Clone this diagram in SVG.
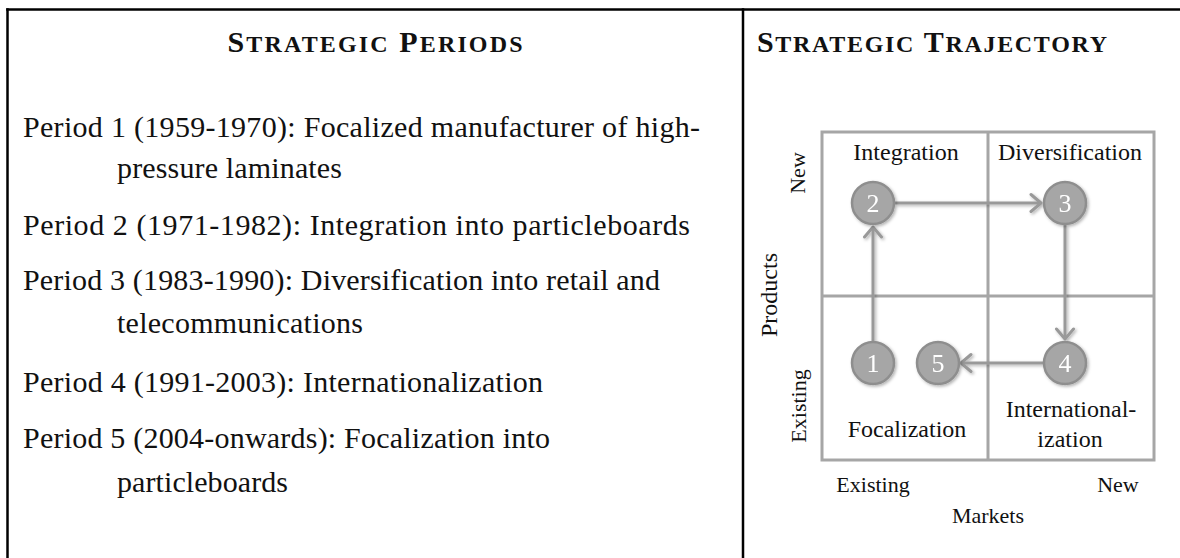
<svg xmlns="http://www.w3.org/2000/svg" width="1180" height="558" viewBox="0 0 1180 558">
<style>
.frame{stroke:#000;stroke-width:2.5;fill:none}
.title{font-family:"Liberation Serif",serif;font-weight:bold;fill:#111;font-size:30px}
.sc{font-size:24px}
.body{font-family:"Liberation Serif",serif;font-size:30px;fill:#111}
.lbl{font-family:"Liberation Serif",serif;font-size:24px;fill:#111;text-anchor:middle}
.ax{font-family:"Liberation Serif",serif;font-size:22px;fill:#111;text-anchor:middle}
.grid{stroke:#a6a6a6;stroke-width:3;fill:none}
.node circle{fill:#a6a6a6;stroke:#8e8e8e;stroke-width:2.5}
.node text{font-family:"Liberation Serif",serif;font-size:26px;fill:#fff;text-anchor:middle}
.conn line{stroke:#999;stroke-width:3}
</style>
<defs>
<filter id="sh" x="-30%" y="-30%" width="160%" height="160%">
<feDropShadow dx="1.5" dy="1.5" stdDeviation="1.5" flood-color="#000" flood-opacity="0.3"/>
</filter>
<marker id="ah" markerUnits="userSpaceOnUse" viewBox="-12 -11 15 22" refX="0" refY="0" markerWidth="15" markerHeight="22" orient="auto">
<path d="M-10,-8.5 L0,0 L-10,8.5" fill="none" stroke="#999" stroke-width="3" stroke-linecap="round" stroke-linejoin="round"/>
</marker>
</defs>
<rect width="1180" height="558" fill="#fff"/>
<g id="frame">
<line class="frame" x1="6.2" y1="9.5" x2="1180" y2="9.5"/>
<line class="frame" x1="7.5" y1="8.3" x2="7.5" y2="558"/>
<line class="frame" x1="743" y1="8.3" x2="743" y2="558"/>
</g>
<g id="periods">
<text class="title" x="375" y="52" text-anchor="middle" textLength="295" lengthAdjust="spacing">S<tspan class="sc">TRATEGIC</tspan> P<tspan class="sc">ERIODS</tspan></text>
<text class="body" x="23" y="137" textLength="677" lengthAdjust="spacing">Period 1 (1959-1970): Focalized manufacturer of high-</text>
<text class="body" x="117" y="178" textLength="225" lengthAdjust="spacing">pressure laminates</text>
<text class="body" x="23" y="235" textLength="667" lengthAdjust="spacing">Period 2 (1971-1982): Integration into particleboards</text>
<text class="body" x="23" y="290" textLength="637" lengthAdjust="spacing">Period 3 (1983-1990): Diversification into retail and</text>
<text class="body" x="117" y="333" textLength="246" lengthAdjust="spacing">telecommunications</text>
<text class="body" x="23" y="392" textLength="520" lengthAdjust="spacing">Period 4 (1991-2003): Internationalization</text>
<text class="body" x="23" y="448" textLength="527" lengthAdjust="spacing">Period 5 (2004-onwards): Focalization into</text>
<text class="body" x="117" y="492" textLength="171" lengthAdjust="spacing">particleboards</text>
</g>
<g id="trajectory">
<text class="title" x="757" y="52" textLength="350" lengthAdjust="spacing">S<tspan class="sc">TRATEGIC</tspan> T<tspan class="sc">RAJECTORY</tspan></text>
<g id="matrix">
<rect class="grid" x="822" y="132" width="332" height="328"/>
<line class="grid" x1="988" y1="132" x2="988" y2="460"/>
<line class="grid" x1="822" y1="296" x2="1154" y2="296"/>
</g>
<text class="lbl" x="906" y="160">Integration</text>
<text class="lbl" x="1070" y="160">Diversification</text>
<text class="lbl" x="907" y="437">Focalization</text>
<text class="lbl" x="1071" y="417">International-</text>
<text class="lbl" x="1070" y="447">ization</text>
<text class="ax" x="873" y="492">Existing</text>
<text class="ax" x="1118" y="492">New</text>
<text class="ax" x="988" y="523">Markets</text>
<text class="lbl" transform="translate(777,295) rotate(-90)">Products</text>
<text class="ax" transform="translate(805,173) rotate(-90)">New</text>
<text class="ax" transform="translate(806,406) rotate(-90)">Existing</text>
</g>
<g id="connectors" class="conn" filter="url(#sh)">
<line x1="873" y1="341" x2="873" y2="227" marker-end="url(#ah)"/>
<line x1="895" y1="203" x2="1041" y2="203" marker-end="url(#ah)"/>
<line x1="1065" y1="225" x2="1065" y2="339" marker-end="url(#ah)"/>
<line x1="1043" y1="363" x2="961" y2="363" marker-end="url(#ah)"/>
</g>
<g id="n1" class="node" filter="url(#sh)"><circle cx="873" cy="363" r="21"/><text x="873" y="372">1</text></g>
<g id="n2" class="node" filter="url(#sh)"><circle cx="873" cy="203" r="21"/><text x="873" y="212">2</text></g>
<g id="n3" class="node" filter="url(#sh)"><circle cx="1065" cy="203" r="21"/><text x="1065" y="212">3</text></g>
<g id="n4" class="node" filter="url(#sh)"><circle cx="1065" cy="363" r="21"/><text x="1065" y="372">4</text></g>
<g id="n5" class="node" filter="url(#sh)"><circle cx="938" cy="363" r="21"/><text x="938" y="372">5</text></g>
</svg>
